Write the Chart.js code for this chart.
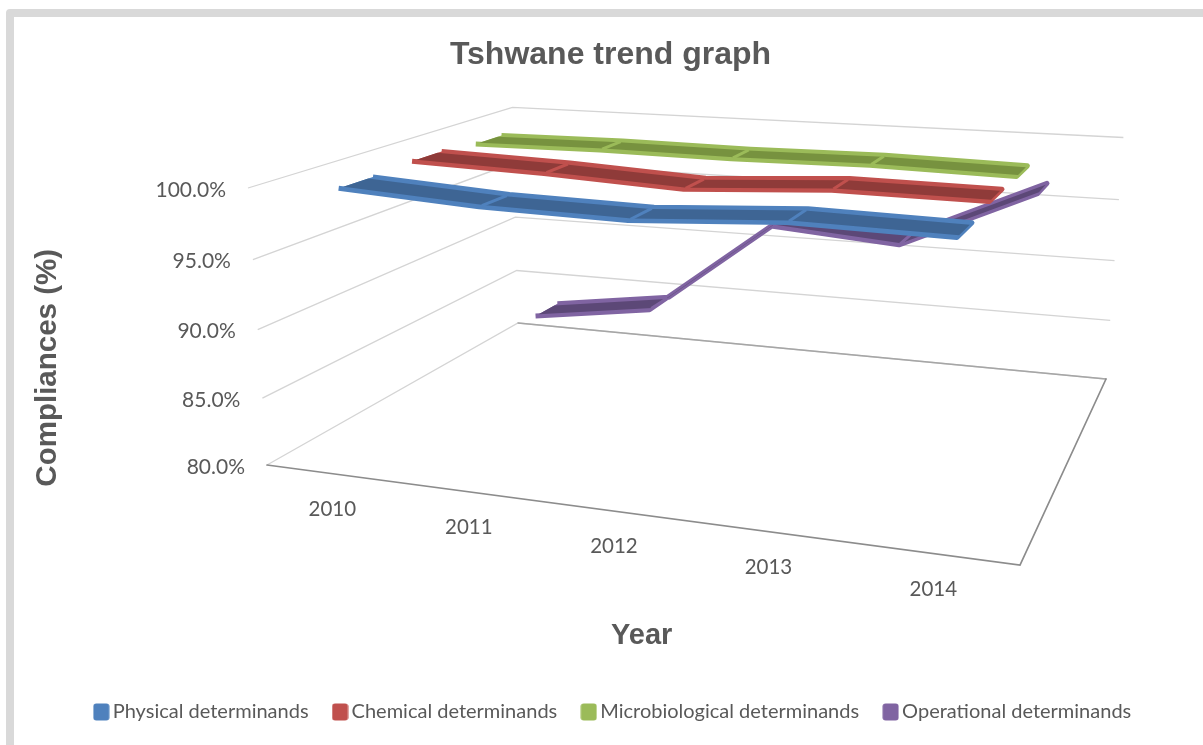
<!DOCTYPE html>
<html><head><meta charset="utf-8">
<script src="https://cdn.jsdelivr.net/npm/chart.js@4/dist/chart.umd.js"></script>
<style>
html,body{margin:0;padding:0;background:#fff;overflow:hidden;width:1203px;height:745px}
#frame{position:absolute;left:6px;top:9px;width:1400px;height:1000px;border:8px solid #d9d9d9;border-radius:4px}
#wrap{position:absolute;left:0;top:0;width:1203px;height:745px}
</style></head><body>
<div id="frame"></div>
<div id="wrap"><canvas id="c" width="1203" height="745"></canvas></div>
<script>
const categories = ['2010','2011','2012','2013','2014'];
const tickLabels = ['80.0%','85.0%','90.0%','95.0%','100.0%'];
const physical = [99.8, 99.2, 99.0, 99.6, 99.4];
const chemical = [100.0, 99.7, 99.2, 99.8, 99.7];
const microbiological = [99.7, 99.8, 99.7, 99.8, 99.6];
const operational = [83.0, 84.5, 92.5, 91.7, 96.5];
const seriesNames = ['Physical determinands','Chemical determinands','Microbiological determinands','Operational determinands'];
const seriesValues = [physical, chemical, microbiological, operational];
const lightColors = ['#4f81bd','#c0504d','#9bbb59','#8064a2'];
const darkColors = ['#3e6594','#8f3b39','#77923f','#5c4877'];
const laneCentre = [0.125,0.375,0.625,0.875];
const laneHalf = 0.056, innerHalf = 0.04;

// camera calibration: floor quad and wall tops of the 3D plot box
const P00=[267,465],P10=[1020,565],P11=[1106,379],P01=[518,323];
const TOPS=[[517,108,0,1],[1122,140,1,1]], TOP00=[248,188];
const cam=(()=>{
  const [x0,y0]=P00,[x1,y1]=P10,[x2,y2]=P11,[x3,y3]=P01;
  const dx1=x1-x2,dx2=x3-x2,sx=x0-x1+x2-x3,dy1=y1-y2,dy2=y3-y2,sy=y0-y1+y2-y3;
  const det=dx1*dy2-dx2*dy1;
  const g=(sx*dy2-dx2*sy)/det,h=(dx1*sy-sx*dy1)/det;
  const a=x1-x0+g*x1,b=x3-x0+h*x3,c=x0,d=y1-y0+g*y1,e=y3-y0+h*y3,f=y0;
  let num=0,den=0;
  for(const [xp,yp,u,w] of TOPS){
    const W=g*u+h*w+1,X=a*u+b*w+c,Y=d*u+e*w+f;
    let A=TOP00[0]-xp,B=xp*W-X-TOP00[0]+c;num+=A*B;den+=A*A;
    A=TOP00[1]-yp;B=yp*W-Y-TOP00[1]+f;num+=A*B;den+=A*A;
  }
  const i=num/den,cx=TOP00[0]*(1+i)-c,cy=TOP00[1]*(1+i)-f;
  return {a,b,c,d,e,f,g,h,i,cx,cy};
})();
function project(u,w,t){
  const m=cam,q=m.g*u+m.h*w+1+m.i*t;
  return {x:(m.a*u+m.b*w+m.c+m.cx*t)/q,y:(m.d*u+m.e*w+m.f+m.cy*t)/q};
}
function norm(chart,x,y){
  const s=chart.scales,ca=chart.chartArea;
  return {u:(s.x.getPixelForValue(x)-ca.left)/(ca.right-ca.left),t:(ca.bottom-s.y.getPixelForValue(y))/(ca.bottom-ca.top)};
}
function outline(vals,half,z){
  const front=vals.map((v,i)=>({x:i,y:v,z:z-half}));
  const back=vals.map((v,i)=>({x:i,y:v,z:z+half})).reverse();
  return front.concat(back);
}
function dividers(vals,half,z){
  const out=[];
  vals.forEach((v,i)=>{ if(i>0&&i<vals.length-1){out.push({x:i,y:v,z:z-half},{x:i,y:v,z:z+half},{x:NaN,y:NaN,z:0});}});
  return out;
}
function swatch(color){
  const k=document.createElement('canvas');k.width=17;k.height=18;
  const g=k.getContext('2d');g.fillStyle=color;g.beginPath();g.roundRect(0.5,0.5,16,17,3);g.fill();return k;
}
const datasets=[];
seriesNames.forEach((name,s)=>{
  const z=laneCentre[s],base=s*10;
  datasets.push({label:name+' joints',data:dividers(seriesValues[s],innerHalf+0.006,z),borderColor:lightColors[s],borderWidth:3,pointRadius:0,fill:false,clip:false,order:base});
  datasets.push({label:name+' face',data:outline(seriesValues[s],innerHalf,z),borderColor:darkColors[s],backgroundColor:darkColors[s],borderWidth:0,pointRadius:0,fill:'shape',clip:false,order:base+1});
  datasets.push({label:name,data:outline(seriesValues[s],laneHalf,z),borderColor:lightColors[s],backgroundColor:lightColors[s],borderWidth:5,borderJoinStyle:'round',pointRadius:0,fill:'shape',clip:false,order:base+2,pointStyle:swatch(lightColors[s])});
});
const projectPlugin={id:'project',
  afterLayout(chart){
    chart.legend.left+=5;chart.legend.right+=5;
  },
  afterDatasetsUpdate(chart){
    chart.data.datasets.forEach((ds,n)=>{
      const meta=chart.getDatasetMeta(n);
      meta.data.forEach((el,k)=>{
        const r=ds.data[k]; if(!isFinite(r.y)) return;
        const {u,t}=norm(chart,r.x,r.y),p=project(u,r.z,t);
        el.x=p.x;el.y=p.y;
      });
      if(meta.dataset) meta.dataset._path=undefined;
    });
  },
  beforeDatasetsDraw(chart){
    const c=chart.ctx;c.save();
    c.lineWidth=1.3;c.strokeStyle='#d4d4d4';
    chart.scales.y.ticks.forEach((tk,n)=>{
      const {t}=norm(chart,0,tk.value);
      const a=project(0,0,t),b=project(0,1,t),d=project(1,1,t);
      c.beginPath();c.moveTo(a.x,a.y);c.lineTo(b.x,b.y);c.lineTo(d.x,d.y);c.stroke();
      c.fillStyle='#595959';c.font='21px Lato';c.textAlign='right';c.textBaseline='middle';
      c.fillText(tickLabels[n],a.x-22,a.y+2);
    });
    const f0=project(0,0,0),f1=project(1,0,0),f2=project(1,1,0),f3=project(0,1,0);
    c.lineCap='round';
    c.strokeStyle='#a6a6a6';c.lineWidth=1.3;
    c.beginPath();c.moveTo(f3.x,f3.y);c.lineTo(f2.x,f2.y);c.stroke();
    c.strokeStyle='#8c8c8c';c.lineWidth=1.7;
    c.beginPath();c.moveTo(f0.x,f0.y);c.lineTo(f1.x,f1.y);c.lineTo(f2.x,f2.y);c.stroke();
    c.fillStyle='#595959';c.font='20.5px Lato';c.textAlign='center';c.textBaseline='middle';
    categories.forEach((lab,i)=>{
      const {u}=norm(chart,i,80),p=project(u,0,0);
      c.fillText(lab,p.x,p.y+35.5);
    });
    c.restore();
  }
};
new Chart(document.getElementById('c'),{
  type:'line',
  data:{datasets},
  plugins:[projectPlugin],
  options:{
    responsive:false,animation:false,
    layout:{padding:{left:18,top:10,bottom:13,right:0}},
    scales:{
      x:{type:'linear',min:-0.5,max:4.5,grid:{display:false},border:{display:false},ticks:{display:false},
         title:{display:true,text:'Year',font:{family:'Liberation Sans',size:29,weight:'bold'},color:'#595959',padding:{top:0,bottom:19}}},
      y:{type:'linear',min:80,max:100,grid:{display:false},border:{display:false},ticks:{display:false,stepSize:5},
         title:{display:true,text:'Compliances (%)',font:{family:'Liberation Sans',size:29.5,weight:'bold'},color:'#595959',padding:{top:12,bottom:7}}}
    },
    plugins:{
      title:{display:true,text:'Tshwane trend graph',font:{family:'Liberation Sans',size:32,weight:'bold'},color:'#595959',padding:{top:26,bottom:51}},
      legend:{position:'bottom',labels:{
        font:{family:'Lato',size:20},color:'#595959',usePointStyle:true,boxWidth:3,boxHeight:18,padding:30,
        filter:(it)=>seriesNames.includes(it.text),
        sort:(a,b)=>seriesNames.indexOf(a.text)-seriesNames.indexOf(b.text)
      }},
      tooltip:{enabled:false}
    }
  }
});
</script></body></html>
